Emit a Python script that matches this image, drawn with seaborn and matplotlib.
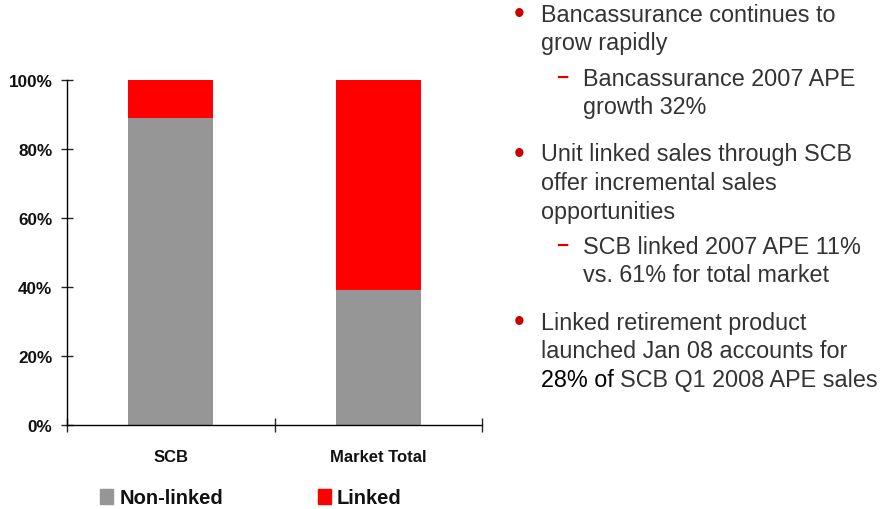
import matplotlib
matplotlib.use("Agg")
import matplotlib.pyplot as plt
import matplotlib.patches as mpatches
import seaborn as sns
import pandas as pd

# data (share of 2007 APE, %)
categories = ["SCB", "Market Total"]
non_linked = [89, 39]
linked = [11, 61]

bullets = [
    ("bullet", ["Bancassurance continues to", "grow rapidly"]),
    ("sub", ["Bancassurance 2007 APE", "growth 32%"]),
    ("bullet", ["Unit linked sales through SCB", "offer incremental sales", "opportunities"]),
    ("sub", ["SCB linked 2007 APE 11%", "vs. 61% for total market"]),
    ("bullet", ["Linked retirement product", "launched Jan 08 accounts for", None]),
]

GREY = "#969696"
RED = "#ff0000"

sns.set_style("white")
plt.rcParams["font.family"] = ["Liberation Sans", "DejaVu Sans"]

df = pd.DataFrame({"cat": categories, "non_linked": non_linked, "linked": linked})
df["total"] = df["non_linked"] + df["linked"]

fig = plt.figure(figsize=(8.83, 5.10), dpi=100)
W, H = 883, 510
ax = fig.add_axes([67 / W, 1 - 426 / H, (482 - 67) / W, (426 - 81) / H])

# stacked bars: red total first, grey non-linked on top of it
sns.barplot(data=df, x="cat", y="total", color=RED, width=0.41, saturation=1,
            linewidth=0, ax=ax)
sns.barplot(data=df, x="cat", y="non_linked", color=GREY, width=0.41, saturation=1,
            linewidth=0, ax=ax)

ax.set_xlim(-0.5, 1.5)
ax.set_ylim(0, 100)
ax.set_xlabel("")
ax.set_ylabel("")
for s in ["top", "right"]:
    ax.spines[s].set_visible(False)
for s in ["left", "bottom"]:
    ax.spines[s].set_color("black")
    ax.spines[s].set_linewidth(1)
    ax.spines[s].set_zorder(5)

ax.set_yticks([0, 20, 40, 60, 80, 100])
ax.set_yticklabels([f"{v}%" for v in [0, 20, 40, 60, 80, 100]], fontsize=12.3, fontweight="bold")
ax.tick_params(axis="y", direction="inout", length=9, width=1, left=True, pad=6, labelcolor="#111111")

# category boundaries as major ticks, names as minor labels
ax.set_xticks([-0.5, 0.5, 1.5])
ax.set_xticklabels(["", "", ""])
ax.set_xticks([0, 1], minor=True)
ax.set_xticklabels(categories, minor=True, fontsize=12, fontweight="bold")
ax.tick_params(axis="x", which="major", direction="inout", length=10, width=1, bottom=True)
ax.tick_params(axis="x", which="minor", length=0, pad=17, labelcolor="#111111")

handles = [mpatches.Patch(color=GREY, label="Non-linked"),
           mpatches.Patch(color=RED, label="Linked")]
fig.legend(handles=handles, loc="center left", bbox_to_anchor=(100 / W, 1 - 499 / H),
           ncol=2, frameon=False, prop={"size": 14.5, "weight": "bold"},
           handlelength=0.65, handleheight=0.75, handletextpad=0.3, columnspacing=4.7,
           borderaxespad=0, borderpad=0, labelcolor="#111111")

# right-hand commentary
TXT = "#333333"
FS = 16.8
line_h = 28.5
y = 15
prev = None
for kind, lines in bullets:
    if prev is not None:
        y += line_h + (7 if kind == "sub" else 19)
    if kind == "bullet":
        fig.text(519 / W, 1 - y / H, "\u2022", color="#cc0000", fontsize=22, ha="center", va="center")
        x = 541
    else:
        fig.text(562 / W, 1 - (y - 1) / H, "\u2212", color="#dd0000", fontsize=15,
                 fontweight="bold", ha="center", va="center")
        x = 583
    for i, ln in enumerate(lines):
        if ln is not None:
            fig.text(x / W, 1 - y / H, ln, color=TXT, fontsize=FS, va="center")
        if i < len(lines) - 1:
            y += line_h
    prev = kind

# last line mixes black and grey text
t = fig.text(541 / W, 1 - y / H, "28% of ", color="black", fontsize=FS, va="center")
fig.canvas.draw()
bb = t.get_window_extent()
fig.text(bb.x1 / W, 1 - y / H, "SCB Q1 2008 APE sales", color=TXT, fontsize=FS, va="center")

fig.savefig("out.png", dpi=100)
